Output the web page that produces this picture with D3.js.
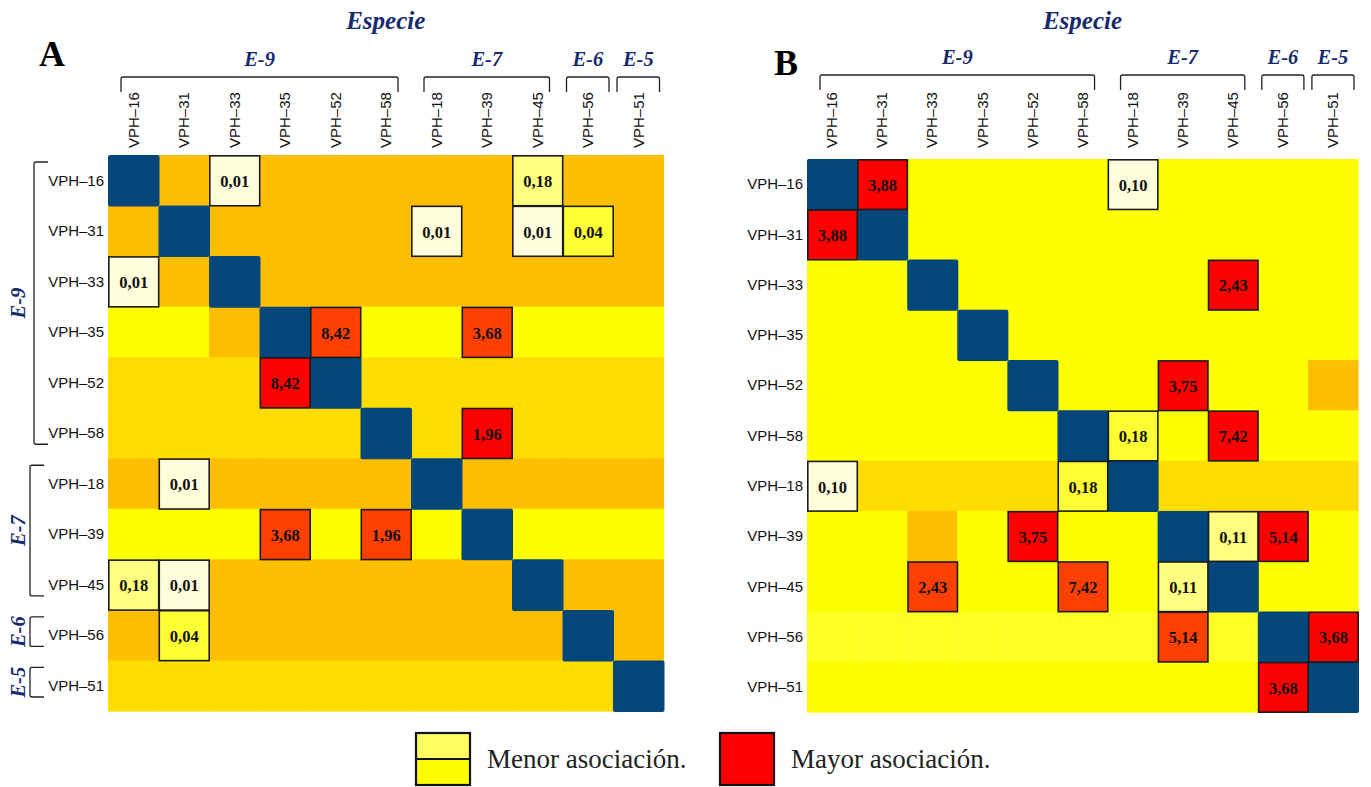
<!DOCTYPE html>
<html>
<head>
<meta charset="utf-8">
<script src="https://cdn.jsdelivr.net/npm/d3@7"></script>
<style>
  body { margin: 0; background: #fff; }
  svg { display: block; }
</style>
</head>
<body>
<svg id="fig" width="1371" height="787"></svg>
<script>
// Genotipos de VPH en el orden de filas y columnas
const species = ["VPH–16", "VPH–31", "VPH–33", "VPH–35", "VPH–52", "VPH–58",
                 "VPH–18", "VPH–39", "VPH–45", "VPH–56", "VPH–51"];

// Especies (grupos de genotipos)
const groupNames = ["E-9", "E-7", "E-6", "E-5"];
const groupFirst = ["VPH–16", "VPH–18", "VPH–56", "VPH–51"];
const groupLast  = ["VPH–58", "VPH–45", "VPH–56", "VPH–51"];

// Nivel de asociación por celda (una cadena por fila):
// D diagonal, O ámbar, G dorado, Y amarillo, S amarillo suave,
// P crema, L amarillo claro, K limón, R rojo, T rojo anaranjado
const tonesA = [
  "DOPOOOOOLOO",
  "ODOOOOPOPKO",
  "PODOOOOOOOO",
  "YYODTYYTYYY",
  "GGGRDGGGGGG",
  "GGGGGDGRGGG",
  "OPOOOODOOOO",
  "YYYTYTYDYYY",
  "LPOOOOOODOO",
  "OKOOOOOOODO",
  "GGGGGGGGGGD"
];
const tonesB = [
  "DRYYYYPYYYY",
  "RDYYYYYYYYY",
  "YYDYYYYYRYY",
  "YYYDYYYYYYY",
  "YYYYDYYRYYO",
  "YYYYYDKYRYY",
  "PGGGGKDGGGG",
  "YYOYRYYDLRY",
  "YYTYYTYLDYY",
  "SSSSSSSTSDR",
  "YYYYYYYYYRD"
];

// Valores de asociación rotulados: [fila, columna, valor]
const assocA = [
  ["VPH–16", "VPH–33", 0.01], ["VPH–16", "VPH–45", 0.18],
  ["VPH–31", "VPH–18", 0.01], ["VPH–31", "VPH–45", 0.01], ["VPH–31", "VPH–56", 0.04],
  ["VPH–33", "VPH–16", 0.01],
  ["VPH–35", "VPH–52", 8.42], ["VPH–35", "VPH–39", 3.68],
  ["VPH–52", "VPH–35", 8.42],
  ["VPH–58", "VPH–39", 1.96],
  ["VPH–18", "VPH–31", 0.01],
  ["VPH–39", "VPH–35", 3.68], ["VPH–39", "VPH–58", 1.96],
  ["VPH–45", "VPH–16", 0.18], ["VPH–45", "VPH–31", 0.01],
  ["VPH–56", "VPH–31", 0.04]
];
const assocB = [
  ["VPH–16", "VPH–31", 3.88], ["VPH–16", "VPH–18", 0.10],
  ["VPH–31", "VPH–16", 3.88],
  ["VPH–33", "VPH–45", 2.43],
  ["VPH–52", "VPH–39", 3.75],
  ["VPH–58", "VPH–18", 0.18], ["VPH–58", "VPH–45", 7.42],
  ["VPH–18", "VPH–16", 0.10], ["VPH–18", "VPH–58", 0.18],
  ["VPH–39", "VPH–52", 3.75], ["VPH–39", "VPH–45", 0.11], ["VPH–39", "VPH–56", 5.14],
  ["VPH–45", "VPH–33", 2.43], ["VPH–45", "VPH–58", 7.42], ["VPH–45", "VPH–39", 0.11],
  ["VPH–56", "VPH–39", 5.14], ["VPH–56", "VPH–51", 3.68],
  ["VPH–51", "VPH–56", 3.68]
];

// Leyenda
const legendLabels = ["Menor asociación.", "Mayor asociación."];

const toneColor = d3.scaleOrdinal()
  .domain(["D", "O", "G", "Y", "S", "P", "L", "K", "R", "T"])
  .range(["#02467a", "#ffbe00", "#ffdd00", "#ffff00", "#ffff26",
          "#ffffdc", "#ffff80", "#ffff33", "#ff0000", "#ff4000"]);

const fmt = d3.formatLocale({ decimal: ",", thousands: ".", grouping: [3], currency: ["", ""] }).format(".2f");

const NAVY = "#142a6e";
const svg = d3.select("#fig");

function drawPanel(cfg) {
  const x = d3.scaleBand().domain(species).range(cfg.xRange);
  const y = d3.scaleBand().domain(species).range(cfg.yRange);
  const bw = x.bandwidth(), bh = y.bandwidth();
  const g = svg.append("g");

  const cells = [];
  cfg.tones.forEach((row, i) => {
    row.split("").forEach((t, j) => cells.push({ r: species[i], c: species[j], t }));
  });
  const labeled = new Set(cfg.assoc.map(d => d[0] + "|" + d[1]));

  // Fondo de la matriz
  g.append("g").selectAll("rect")
    .data(cells.filter(d => d.t !== "D" && !labeled.has(d.r + "|" + d.c)))
    .join("rect")
    .attr("x", d => x(d.c)).attr("y", d => y(d.r))
    .attr("width", bw + 0.6).attr("height", bh + 0.6)
    .attr("fill", d => toneColor(d.t));

  // Celdas de la diagonal
  g.append("g").selectAll("rect")
    .data(cells.filter(d => d.t === "D"))
    .join("rect")
    .attr("x", d => x(d.c)).attr("y", d => y(d.r))
    .attr("width", bw + 1).attr("height", bh + 1)
    .attr("rx", 2)
    .attr("fill", toneColor("D"));

  // Celdas rotuladas con su valor
  const toneOf = (r, c) => cfg.tones[species.indexOf(r)][species.indexOf(c)];
  const lab = g.append("g").selectAll("g")
    .data(cfg.assoc)
    .join("g")
    .attr("transform", d => `translate(${x(d[1])},${y(d[0])})`);
  lab.append("rect")
    .attr("x", 0.8).attr("y", 0.8)
    .attr("width", bw - 0.6).attr("height", bh - 0.6)
    .attr("fill", d => toneColor(toneOf(d[0], d[1])))
    .attr("stroke", "#1a1a1a").attr("stroke-width", 1.6);
  lab.append("text")
    .attr("x", bw / 2 + 0.5).attr("y", bh / 2 + 1)
    .attr("dy", "0.35em")
    .attr("text-anchor", "middle")
    .attr("font-family", "'Liberation Serif', 'Times New Roman', serif")
    .attr("font-weight", "bold")
    .attr("font-size", 16.5)
    .attr("fill", "#111")
    .text(d => fmt(d[2]));

  // Etiquetas de columnas
  g.append("g").selectAll("text")
    .data(species)
    .join("text")
    .attr("transform", d => `translate(${x(d) + bw / 2},148) rotate(-90)`)
    .attr("dy", "0.35em")
    .attr("font-family", "'Liberation Sans', Arial, sans-serif")
    .attr("font-size", 15)
    .attr("fill", "#111")
    .text(d => d);

  // Etiquetas de filas
  g.append("g").selectAll("text")
    .data(species)
    .join("text")
    .attr("x", cfg.xRange[0] - 4)
    .attr("y", d => y(d) + bh / 2)
    .attr("dy", "0.35em")
    .attr("text-anchor", "end")
    .attr("font-family", "'Liberation Sans', Arial, sans-serif")
    .attr("font-size", 15)
    .attr("fill", "#111")
    .text(d => d);

  // Llaves superiores de especie
  groupNames.forEach((name, k) => {
    const single = groupFirst[k] === groupLast[k];
    const inset = single ? 4 : 13;
    const x1 = x(groupFirst[k]) + inset;
    const x2 = x(groupLast[k]) + bw - inset;
    const yt = cfg.braceTop, yb = cfg.braceTop + 15;
    g.append("path")
      .attr("d", `M${x1},${yb} V${yt + 2} Q${x1},${yt} ${x1 + 2},${yt} H${x2 - 2} Q${x2},${yt} ${x2},${yt + 2} V${yb}`)
      .attr("fill", "none").attr("stroke", "#222").attr("stroke-width", 1.3);
    g.append("text")
      .attr("x", (x1 + x2) / 2)
      .attr("y", cfg.braceTop - 18)
      .attr("dy", "0.35em")
      .attr("text-anchor", "middle")
      .attr("font-family", "'Liberation Serif', 'Times New Roman', serif")
      .attr("font-weight", "bold").attr("font-style", "italic")
      .attr("font-size", 20.5)
      .attr("fill", NAVY)
      .text(name);
  });

  // Llaves laterales (solo panel A)
  if (cfg.sideBraces) {
    groupNames.forEach((name, k) => {
      const y1 = y(groupFirst[k]) + 7;
      const y2 = y(groupLast[k]) + bh - 14;
      const xv = k === 0 ? 34 : 30, xe = xv + 14;
      g.append("path")
        .attr("d", `M${xe},${y1} H${xv + 2} Q${xv},${y1} ${xv},${y1 + 2} V${y2 - 2} Q${xv},${y2} ${xv + 2},${y2} H${xe}`)
        .attr("fill", "none").attr("stroke", "#222").attr("stroke-width", 1.3);
      g.append("text")
        .attr("transform", `translate(18,${(y1 + y2) / 2}) rotate(-90)`)
        .attr("dy", "0.35em")
        .attr("text-anchor", "middle")
        .attr("font-family", "'Liberation Serif', 'Times New Roman', serif")
        .attr("font-weight", "bold").attr("font-style", "italic")
        .attr("font-size", 20.5)
        .attr("fill", NAVY)
        .text(name);
    });
  }

  // Título "Especie"
  g.append("text")
    .attr("x", (cfg.xRange[0] + cfg.xRange[1]) / 2)
    .attr("y", 20).attr("dy", "0.35em")
    .attr("text-anchor", "middle")
    .attr("font-family", "'Liberation Serif', 'Times New Roman', serif")
    .attr("font-weight", "bold").attr("font-style", "italic")
    .attr("font-size", 25)
    .attr("fill", NAVY)
    .text("Especie");

  // Letra del panel
  g.append("text")
    .attr("x", cfg.letterX).attr("y", cfg.letterY)
    .attr("dy", "0.35em")
    .attr("text-anchor", "middle")
    .attr("font-family", "'Liberation Serif', 'Times New Roman', serif")
    .attr("font-weight", "bold")
    .attr("font-size", 36)
    .attr("fill", "#000")
    .text(cfg.letter);
}

drawPanel({ tones: tonesA, assoc: assocA, xRange: [108, 663.5], yRange: [155, 711],
            braceTop: 77, sideBraces: true, letter: "A", letterX: 52, letterY: 53 });
drawPanel({ tones: tonesB, assoc: assocB, xRange: [807, 1358], yRange: [159, 712],
            braceTop: 75, sideBraces: false, letter: "B", letterX: 786, letterY: 62 });

// Leyenda
const legend = svg.append("g");
const lx = [416, 720];
legend.append("rect").attr("x", lx[0]).attr("y", 733).attr("width", 54).attr("height", 26)
  .attr("fill", "#ffff60");
legend.append("rect").attr("x", lx[0]).attr("y", 759).attr("width", 54).attr("height", 26)
  .attr("fill", "#ffff00");
legend.append("rect").attr("x", lx[0]).attr("y", 733).attr("width", 54).attr("height", 52)
  .attr("fill", "none").attr("stroke", "#111").attr("stroke-width", 2.2);
legend.append("line").attr("x1", lx[0]).attr("x2", lx[0] + 54).attr("y1", 759).attr("y2", 759)
  .attr("stroke", "#111").attr("stroke-width", 2);
legend.append("rect").attr("x", lx[1]).attr("y", 733).attr("width", 54).attr("height", 52)
  .attr("fill", "#ff0000").attr("stroke", "#111").attr("stroke-width", 2.2);
legend.selectAll("text.lg")
  .data(legendLabels)
  .join("text")
  .attr("class", "lg")
  .attr("x", (d, i) => lx[i] + 71)
  .attr("y", 759).attr("dy", "0.35em")
  .attr("font-family", "'Liberation Serif', 'Times New Roman', serif")
  .attr("font-size", 27)
  .attr("fill", "#222")
  .text(d => d);
</script>
</body>
</html>
